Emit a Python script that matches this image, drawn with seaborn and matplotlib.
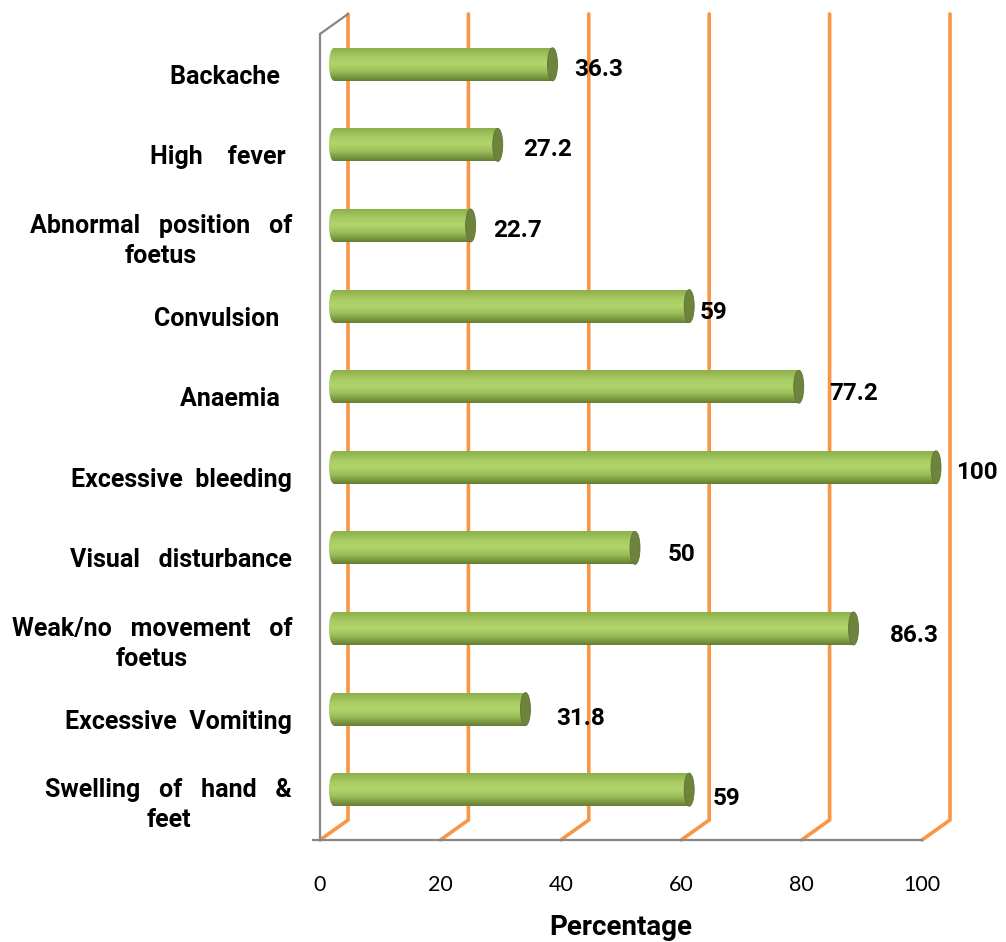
import numpy as np
import pandas as pd
import matplotlib
matplotlib.use("Agg")
import matplotlib.pyplot as plt
import matplotlib.transforms as mtransforms
from matplotlib.patches import Ellipse
from matplotlib.colors import to_rgb
import seaborn as sns

# ---- data -------------------------------------------------------------
symptoms = [
    "Backache  ",
    "High    fever ",
    "Abnormal   position   of\nfoetus",
    "Convulsion  ",
    "Anaemia  ",
    "Excessive  bleeding",
    "Visual   disturbance",
    "Weak/no   movement   of\nfoetus",
    "Excessive  Vomiting",
    "Swelling   of   hand   &\nfeet",
]
percentages = [36.3, 27.2, 22.7, 59, 77.2, 100, 50, 86.3, 31.8, 59]
value_labels = ["36.3", "27.2", "22.7", "59", "77.2", "100", "50", "86.3", "31.8", "59"]
x_ticks = [0, 20, 40, 60, 80, 100]

# per-label nudges (pixels) for the value annotations
label_nudge = [(-2, 0), (1, 0), (-2, 0), (-13, -1), (7, -2),
               (-4, 0), (9, -2), (12, -2), (7, -4), (0, -4)]

df = pd.DataFrame({"Symptom": symptoms, "Percentage": percentages})

# ---- styling ----------------------------------------------------------
sns.set_style("white")
plt.rcParams["font.family"] = ["Lato", "DejaVu Sans"]
for key in ["text.color", "axes.labelcolor", "xtick.labelcolor", "ytick.labelcolor"]:
    plt.rcParams[key] = "black"
BOLD_FONT = ["Roboto", "DejaVu Sans"]

W, H, DPI = 1006, 942, 100
fig = plt.figure(figsize=(W / DPI, H / DPI), dpi=DPI)

# front plane of the 3-D box, in pixels
x0_px, x100_px = 320, 922
y_top_px, y_bot_px = 34, 840
px_per_unit = (x100_px - x0_px) / 100.0
xmax = 112
ax_right_px = x0_px + xmax * px_per_unit
ax = fig.add_axes([x0_px / W, 1 - y_bot_px / H,
                   (ax_right_px - x0_px) / W, (y_bot_px - y_top_px) / H])

ORANGE = "#F79646"
GRAY = "#878787"
BAR_H = 0.41

sns.barplot(data=df, y="Symptom", x="Percentage", orient="h",
            color="#9fc45c", width=BAR_H, ax=ax, zorder=3,
            edgecolor="none", linewidth=0)

ax.set_xlim(0, xmax)
ax.set_ylim(len(symptoms) - 0.5, -0.5)

n = len(symptoms)
ax_h_px = y_bot_px - y_top_px
px_per_cat = ax_h_px / n

# depth offsets: back wall and bar mid-depth
back_dx, back_dy = 28, 20
bar_dx, bar_dy = 14, 10
bar_off = ax.transData + mtransforms.ScaledTranslation(bar_dx / DPI, bar_dy / DPI,
                                                       fig.dpi_scale_trans)

# back-wall gridlines with the slanted floor segment
dxd = back_dx / px_per_unit
dyd = back_dy / px_per_cat
ybot, ytop = n - 0.5, -0.5
for v in x_ticks:
    ax.plot([v, v + dxd, v + dxd], [ybot, ybot - dyd, ytop - dyd],
            color=ORANGE, lw=2.6, zorder=1, clip_on=False,
            solid_joinstyle="miter")

# top-left side-wall edge
ax.plot([0, dxd], [ytop, ytop - dyd], color=GRAY, lw=1.6, zorder=2, clip_on=False)

# cylinder shading
stops = [(0.0, "#8aad4a"), (0.3, "#a8cb64"), (0.5, "#b1d56d"),
         (0.72, "#9bbe58"), (1.0, "#667f33")]
rows = 64
tt = np.linspace(0, 1, rows)
pos = [s[0] for s in stops]
cols = np.array([to_rgb(s[1]) for s in stops])
grad = np.stack([np.interp(tt, pos, cols[:, k]) for k in range(3)], axis=1)
grad = grad[:, None, :]

cap_w = 10 / px_per_unit
for patch in ax.patches[:]:
    x = patch.get_x()
    y = patch.get_y()
    w = patch.get_width()
    h = patch.get_height()
    yc = y + h / 2
    patch.set_transform(bar_off)
    patch.set_facecolor("none")
    # body
    im = ax.imshow(grad, extent=(x, x + w, y + h, y), origin="upper",
                   aspect="auto", transform=bar_off, zorder=3,
                   interpolation="bilinear")
    im.set_clip_path(patch)
    # rounded far end
    left = Ellipse((x, yc), cap_w, h, transform=bar_off, facecolor="none",
                   edgecolor="none")
    ax.add_patch(left)
    im2 = ax.imshow(grad, extent=(x - cap_w / 2, x + cap_w / 2, y + h, y),
                    origin="upper", aspect="auto", transform=bar_off,
                    zorder=3, interpolation="bilinear")
    im2.set_clip_path(left)
    # flat front end
    cap = Ellipse((x + w, yc), cap_w, h, transform=bar_off, facecolor="#6e843c",
                  edgecolor="#5f7433", lw=0.6, zorder=4)
    ax.add_patch(cap)

ax.set_xlim(0, xmax)
ax.set_ylim(len(symptoms) - 0.5, -0.5)

# value labels
for i, (v, lab) in enumerate(zip(percentages, value_labels)):
    ndx, ndy = label_nudge[i]
    ax.annotate(lab, xy=(v, i), xytext=(38 + ndx, 5 + ndy),
                textcoords="offset pixels",
                ha="left", va="center", fontsize=17.5, fontweight="bold",
                family=BOLD_FONT, color="black", zorder=6,
                annotation_clip=False)

# axes: spines and ticks
for s in ["top", "right"]:
    ax.spines[s].set_visible(False)
ax.spines["left"].set_color(GRAY)
ax.spines["left"].set_linewidth(1.6)
ax.spines["bottom"].set_color(GRAY)
ax.spines["bottom"].set_linewidth(1.6)
ax.spines["bottom"].set_bounds(-1.2, 100)

ax.set_xticks(x_ticks)
ax.set_xticklabels([str(t) for t in x_ticks], fontsize=15.5, color="black")
ax.tick_params(axis="x", direction="out", length=5, width=1.6, color=GRAY,
               pad=20, labelcolor="black")

ax.set_yticks(range(n))
ax.set_yticklabels(symptoms, fontsize=18, fontweight="bold", color="black",
                   family=BOLD_FONT, multialignment="center", linespacing=1.3)
ax.tick_params(axis="y", length=0, pad=20)
ax.set_yticks(np.arange(-0.5, n, 1.0), minor=True)
ax.tick_params(axis="y", which="minor", direction="out", length=5, width=1.6,
               color=GRAY)

ax.set_ylabel("")
ax.set_xlabel("Percentage", fontsize=20, fontweight="bold", color="black",
              family=BOLD_FONT)
ax.xaxis.set_label_coords((621 - x0_px) / (ax_right_px - x0_px), -0.092)
ax.grid(False)

fig.savefig("out.png", dpi=DPI)
